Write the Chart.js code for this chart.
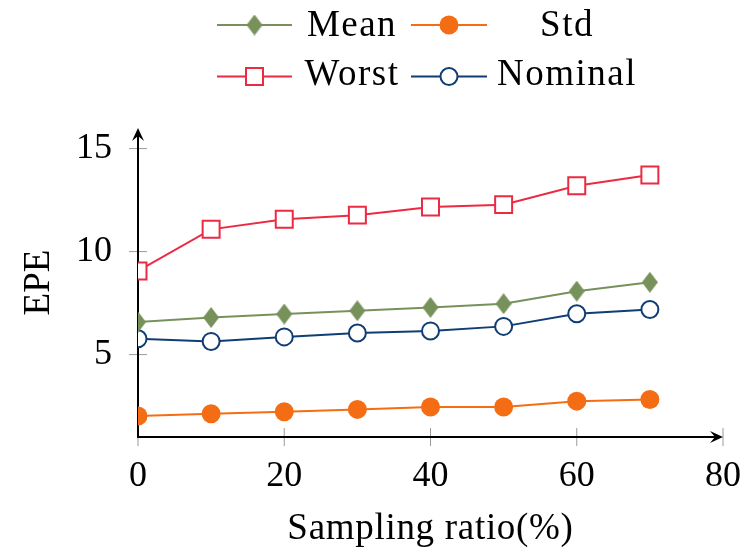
<!DOCTYPE html>
<html>
<head>
<meta charset="utf-8">
<script src="https://cdn.jsdelivr.net/npm/chart.js@4/dist/chart.umd.min.js"></script>
<style>
html,body{margin:0;padding:0;background:#fff;}
#wrap{width:748px;height:551px;}
</style>
</head>
<body>
<div id="wrap"><canvas id="c" width="748" height="551"></canvas></div>
<script>
const xValues = [0, 10, 20, 30, 40, 50, 60, 70];
const meanValues = [6.58, 6.80, 6.97, 7.13, 7.29, 7.47, 8.08, 8.51];
const stdValues = [2.02, 2.13, 2.23, 2.34, 2.46, 2.46, 2.74, 2.82];
const worstValues = [9.06, 11.08, 11.57, 11.77, 12.17, 12.28, 13.20, 13.72];
const nominalValues = [5.77, 5.64, 5.86, 6.05, 6.15, 6.37, 6.98, 7.19];
const seriesLabels = ['Mean', 'Std', 'Worst', 'Nominal'];
const xTicks = [0, 20, 40, 60, 80];
const yTicks = [5, 10, 15];
const xTitle = 'Sampling ratio(%)';
const yTitle = 'EPE';

const FONT = "'Liberation Serif', 'DejaVu Serif', serif";
const TICK_FS = 36;
const TEXT_FS = 37;

function pts(vals){ return xValues.map((x,i)=>({x:x, y:vals[i]})); }

const colors = {Mean:'#77915a', Std:'#f46d14', Worst:'#ec2a42', Nominal:'#0f3d74'};

function makeDiamond(w, h, color){
  const cv = document.createElement('canvas');
  cv.width = w; cv.height = h;
  const c = cv.getContext('2d');
  c.fillStyle = color;
  c.beginPath();
  c.moveTo(w/2, 0); c.lineTo(w, h/2); c.lineTo(w/2, h); c.lineTo(0, h/2);
  c.closePath(); c.fill();
  return cv;
}
const diamond = makeDiamond(16, 21, colors.Mean);

const datasets = [
  {label:seriesLabels[0], data:pts(meanValues), borderColor:colors.Mean, backgroundColor:colors.Mean,
   pointStyle:diamond, pointRadius:9, pointBorderWidth:1, borderWidth:2},
  {label:seriesLabels[1], data:pts(stdValues), borderColor:colors.Std, backgroundColor:colors.Std,
   pointStyle:'circle', pointRadius:9.5, pointBorderWidth:0, borderWidth:2},
  {label:seriesLabels[2], data:pts(worstValues), borderColor:colors.Worst, backgroundColor:'#ffffff',
   pointStyle:'rect', pointRadius:12, pointBorderWidth:2, borderWidth:2},
  {label:seriesLabels[3], data:pts(nominalValues), borderColor:colors.Nominal, backgroundColor:'#ffffff',
   pointStyle:'circle', pointRadius:8.5, pointBorderWidth:2, borderWidth:2}
];

function arrow(ctx, x, y, dir){
  ctx.save();
  ctx.translate(x, y);
  ctx.rotate(dir);
  ctx.beginPath();
  ctx.moveTo(0, 0);
  ctx.lineTo(-13, -6);
  ctx.lineTo(-8, 0);
  ctx.lineTo(-13, 6);
  ctx.closePath();
  ctx.fillStyle = '#000';
  ctx.fill();
  ctx.restore();
}

const axesPlugin = {
  id:'axesPlugin',
  beforeDraw(chart){
    const xs = chart.scales.x;
    if (xs && !xs._lsPatched){
      const orig = xs.drawTitle;
      xs.drawTitle = function(){
        const c = this.ctx; c.save(); c.letterSpacing = '0.7px'; orig.call(this); c.restore();
      };
      xs._lsPatched = true;
    }
  },
  beforeDatasetsDraw(chart){
    const ctx = chart.ctx, a = chart.chartArea;
    const xs = chart.scales.x, ys = chart.scales.y;
    ctx.save();
    ctx.strokeStyle = '#9a9a9a';
    ctx.lineWidth = 1;
    xs.ticks.forEach(t=>{
      const px = xs.getPixelForValue(t.value);
      ctx.beginPath(); ctx.moveTo(px, a.bottom - 9); ctx.lineTo(px, a.bottom + 9); ctx.stroke();
    });
    ys.ticks.forEach(t=>{
      const py = ys.getPixelForValue(t.value);
      ctx.beginPath(); ctx.moveTo(a.left - 9, py); ctx.lineTo(a.left + 9, py); ctx.stroke();
    });
    ctx.strokeStyle = '#000';
    ctx.lineWidth = 2;
    ctx.beginPath();
    ctx.moveTo(a.left, a.top + 4);
    ctx.lineTo(a.left, a.bottom);
    ctx.lineTo(a.right - 4, a.bottom);
    ctx.stroke();
    arrow(ctx, a.right, a.bottom, 0);
    arrow(ctx, a.left, a.top, -Math.PI/2);
    ctx.restore();
  },
  afterDraw(chart){
    const ctx = chart.ctx;
    const cols = [{l1:217, l2:292, tx:352}, {l1:411, l2:487, tx:567}];
    const rows = [{m:25, b:36}, {m:76.5, b:85}];
    ctx.save();
    chart.data.datasets.forEach((ds, i)=>{
      const c = cols[i % 2], r = rows[Math.floor(i / 2)];
      ctx.strokeStyle = ds.borderColor;
      ctx.lineWidth = 2;
      ctx.beginPath(); ctx.moveTo(c.l1, r.m); ctx.lineTo(c.l2, r.m); ctx.stroke();
      ctx.fillStyle = ds.backgroundColor;
      ctx.strokeStyle = ds.borderColor;
      ctx.lineWidth = ds.pointBorderWidth;
      Chart.helpers.drawPoint(ctx, {pointStyle:ds.pointStyle, radius:ds.pointRadius, rotation:0, borderWidth:ds.pointBorderWidth}, (c.l1 + c.l2)/2, r.m);
      ctx.fillStyle = '#000';
      ctx.font = TEXT_FS + 'px ' + FONT;
      ctx.letterSpacing = '1.5px';
      ctx.textAlign = 'center';
      ctx.textBaseline = 'alphabetic';
      ctx.fillText(ds.label, c.tx, r.b);
      ctx.letterSpacing = '0px';
    });
    ctx.restore();
  }
};

new Chart(document.getElementById('c'), {
  type:'line',
  data:{datasets:datasets},
  plugins:[axesPlugin],
  options:{
    responsive:false,
    animation:false,
    devicePixelRatio:1,
    layout:{padding:{top:128, left:0, right:25, bottom:0}},
    plugins:{legend:{display:false}, tooltip:{enabled:false}},
    scales:{
      x:{
        type:'linear', min:0, max:80,
        afterBuildTicks(s){ s.ticks = xTicks.map(v=>({value:v})); },
        afterFit(s){ s.height = 114; s.paddingLeft = 0; s.paddingRight = 0; },
        grid:{display:false, drawTicks:false}, border:{display:false},
        ticks:{color:'#000', font:{family:FONT, size:TICK_FS}, padding:18, maxRotation:0},
        title:{display:true, text:xTitle, color:'#000', font:{family:FONT, size:TEXT_FS}, padding:{top:0, bottom:0}}
      },
      y:{
        type:'linear', min:1, max:16,
        afterBuildTicks(s){ s.ticks = yTicks.map(v=>({value:v})); },
        afterFit(s){ s.width = 138; s.paddingTop = 0; s.paddingBottom = 0; },
        grid:{display:false, drawTicks:false}, border:{display:false},
        ticks:{color:'#000', font:{family:FONT, size:TICK_FS}, padding:26},
        title:{display:true, text:yTitle, color:'#000', font:{family:FONT, size:TEXT_FS}, padding:{top:17, bottom:0}}
      }
    }
  }
});
</script>
</body>
</html>
